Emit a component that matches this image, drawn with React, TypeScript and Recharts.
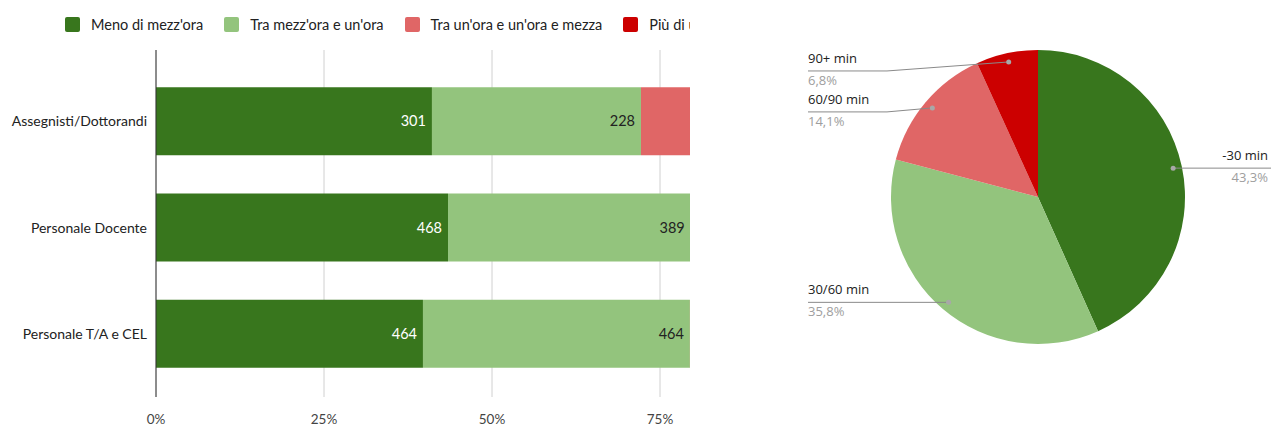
import { BarChart, Bar, XAxis, YAxis, CartesianGrid, LabelList, PieChart, Pie, Cell } from 'recharts'

// categories (rows of the stacked bar chart)
const categories = ['Assegnisti/Dottorandi', 'Personale Docente', 'Personale T/A e CEL']

// series (counts per row) – the last two are mostly cut off in the picture, estimated
const menoMezzora = [301, 468, 464]
const traMezzoraUnora = [228, 389, 464]
const traUnoraUnoraMezza = [150, 150, 170]
const piuUnoraMezza = [54, 70, 70]

const seriesNames = ["Meno di mezz'ora", "Tra mezz'ora e un'ora", "Tra un'ora e un'ora e mezza", "Più di un'ora e mezza"]
const seriesKeys = ['meno', 'tra1', 'tra2', 'piu']
const seriesColors = ['#38761d', '#93c47d', '#e06666', '#cc0000']
const labelColors = ['#ffffff', '#222222']

// only the ticks that fall inside the visible (cropped) part
const xTicks = [0, 0.25, 0.5, 0.75]

// pie: overall share
const pieNames = ['-30 min', '30/60 min', '60/90 min', '90+ min']
const pieValues = [43.3, 35.8, 14.1, 6.8]
const pieColors = ['#38761d', '#93c47d', '#e06666', '#cc0000']
const pieLabelNudge = [0, 0, 4, 9]

const barData = categories.map((name, i) => ({
  name,
  meno: menoMezzora[i],
  tra1: traMezzoraUnora[i],
  tra2: traUnoraUnoraMezza[i],
  piu: piuUnoraMezza[i],
}))

const pieData = pieNames.map((name, i) => ({ name, value: pieValues[i] }))
const pieTotal = pieValues.reduce((a, b) => a + b, 0)

const RAD = Math.PI / 180
const PIE_LEFT = 700
const PIE_W = 571

const CategoryTick = ({ x, y, payload }: any) => (
  <text x={x - 1} y={y} dy={5} textAnchor="end" fontSize={14} fill="#222" fontFamily="Lato">
    {payload.value}
  </text>
)

const PercentTick = ({ x, y, payload }: any) => (
  <text x={x} y={y} dy={19} textAnchor="middle" fontSize={13.5} fill="#444" fontFamily="Lato">
    {Math.round(payload.value * 100)}%
  </text>
)

const PieLabel = (props: any) => {
  const { cx, cy, midAngle, outerRadius, index, name, value } = props
  const r = outerRadius * 0.94
  const dx = cx + r * Math.cos(-midAngle * RAD)
  const dy = cy + r * Math.sin(-midAngle * RAD)
  const right = dx > cx
  const ly = dy + pieLabelNudge[index]
  const endX = right ? PIE_W : 108
  const kneeX = right ? dx : cx - outerRadius - 4
  const pct = ((value / pieTotal) * 100).toFixed(1).replace('.', ',') + '%'
  const tx = right ? PIE_W - 3 : 108
  const anchor = right ? 'end' : 'start'
  return (
    <g>
      <polyline
        points={`${dx},${dy} ${kneeX},${ly} ${endX},${ly}`}
        fill="none"
        stroke="#8a8a8a"
        strokeWidth={1}
      />
      <circle cx={dx} cy={dy} r={2.5} fill="#a8a8a8" />
      <text x={tx} y={ly - 8} textAnchor={anchor} fontSize={13} fill="#222" fontFamily="Open Sans">
        {name}
      </text>
      <text x={tx} y={ly + 14} textAnchor={anchor} fontSize={13} fill="#9e9e9e" fontFamily="Open Sans">
        {pct}
      </text>
    </g>
  )
}

export default function App() {
  return (
    <div style={{ position: 'absolute', left: 0, top: 0, width: 1271, height: 426, background: '#fff', overflow: 'hidden' }}>
      {/* left: stacked 100% bars, cut at the right like the original */}
      <div style={{ position: 'absolute', left: 0, top: 0, width: 690, height: 426, overflow: 'hidden' }}>
        <div
          style={{
            position: 'absolute',
            left: 65,
            top: 16,
            display: 'flex',
            alignItems: 'center',
            whiteSpace: 'nowrap',
            fontFamily: 'Lato',
            fontSize: 14.5,
            color: '#222',
          }}
        >
          {seriesNames.map((n, i) => (
            <div key={n} style={{ display: 'flex', alignItems: 'center', marginRight: 21 }}>
              <span style={{ width: 15, height: 15, background: seriesColors[i], borderRadius: 2, marginRight: 11 }} />
              <span>{n}</span>
            </div>
          ))}
        </div>
        <div style={{ position: 'absolute', left: 0, top: 0 }}>
          <BarChart
            width={852}
            height={426}
            data={barData}
            layout="vertical"
            stackOffset="expand"
            barCategoryGap="18%"
            margin={{ top: 50, right: 24, bottom: 4, left: 0 }}
          >
            <CartesianGrid horizontal={false} stroke="#d0d0d0" />
            <XAxis
              type="number"
              domain={[0, 1]}
              ticks={xTicks}
              axisLine={false}
              tickLine={false}
              tick={<PercentTick />}
              height={25}
            />
            <YAxis
              type="category"
              dataKey="name"
              width={156}
              axisLine={{ stroke: '#333' }}
              tickLine={false}
              tick={<CategoryTick />}
              padding={{ top: 18, bottom: 10 }}
            />
            {seriesKeys.map((k, i) => (
              <Bar key={k} dataKey={k} stackId="a" fill={seriesColors[i]} isAnimationActive={false}>
                {i < 2 && (
                  <LabelList
                    dataKey={k}
                    position="insideRight"
                    offset={6}
                    fill={labelColors[i]}
                    fontSize={14.5}
                    fontFamily="Lato"
                  />
                )}
              </Bar>
            ))}
          </BarChart>
        </div>
      </div>

      {/* right: pie */}
      <div style={{ position: 'absolute', left: PIE_LEFT, top: 0 }}>
        <PieChart width={PIE_W} height={426} margin={{ top: 0, right: 0, bottom: 0, left: 0 }}>
          <Pie
            data={pieData}
            dataKey="value"
            nameKey="name"
            cx={338}
            cy={197}
            outerRadius={147}
            startAngle={90}
            endAngle={-270}
            stroke="none"
            label={<PieLabel />}
            labelLine={false}
            isAnimationActive={false}
          >
            {pieData.map((d, i) => (
              <Cell key={d.name} fill={pieColors[i]} />
            ))}
          </Pie>
        </PieChart>
      </div>
    </div>
  )
}
